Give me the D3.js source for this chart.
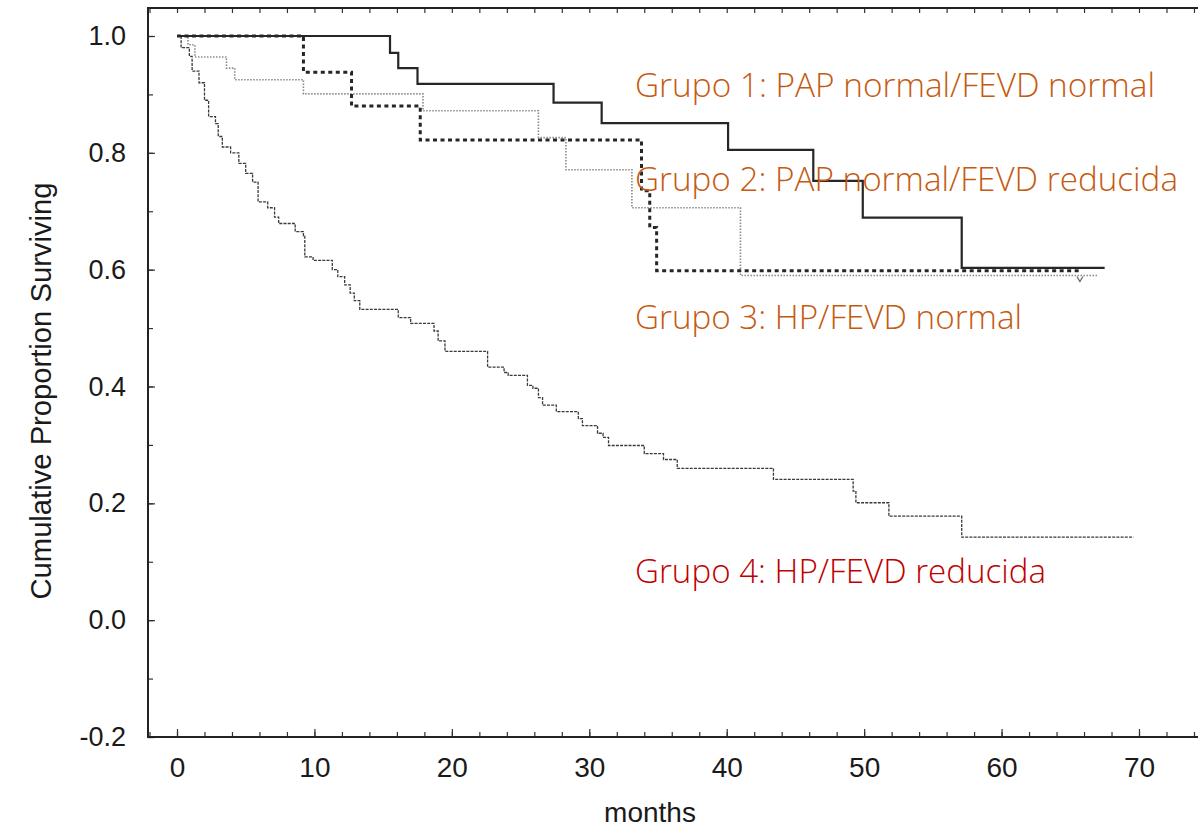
<!DOCTYPE html>
<html>
<head>
<meta charset="utf-8">
<script src="https://cdn.jsdelivr.net/npm/d3@7"></script>
<style>
  body { margin: 0; background: #fff; }
  svg { display: block; }
</style>
</head>
<body>
<div id="chart"></div>
<script>
// step times (months) and survival after each drop
var g1Times = [15.5, 16.1, 17.5, 27.4, 30.9, 40.1, 46.3, 49.9, 57.1];
var g1Surv  = [0.971, 0.945, 0.918, 0.886, 0.851, 0.805, 0.752, 0.689, 0.603];
var g1End = 67.5;

var g2Times = [9.2, 12.7, 17.7, 33.8, 34.4, 34.9];
var g2Surv  = [0.938, 0.880, 0.822, 0.735, 0.672, 0.598];
var g2End = 65.7;

var g3Times = [0.8, 1.3, 3.6, 4.2, 9.2, 17.9, 26.3, 28.3, 33.1, 41.0];
var g3Surv  = [0.985, 0.964, 0.945, 0.925, 0.901, 0.872, 0.826, 0.771, 0.706, 0.590];
var g3End = 67.0;
var g3Censor = [65.7];

var g4Times = [0.3, 0.9, 1.1, 1.6, 2.0, 2.3, 2.8, 3.0, 3.3, 3.9, 4.5, 5.0, 5.5, 5.9,
  6.6, 7.1, 7.4, 8.6, 9.2, 9.3, 9.9, 11.3, 11.7, 12.2, 12.6, 12.9, 13.3, 16.1, 17.0,
  18.7, 19.0, 19.5, 22.6, 23.8, 24.1, 25.5, 25.9, 26.3, 26.6, 27.6, 29.2, 29.5, 30.6,
  31.0, 31.4, 34.0, 35.4, 36.4, 43.4, 49.2, 49.4, 51.8, 57.1];
var g4Surv = [0.98, 0.965, 0.94, 0.92, 0.89, 0.862, 0.85, 0.828, 0.81, 0.80, 0.782,
  0.765, 0.75, 0.716, 0.706, 0.69, 0.679, 0.665, 0.658, 0.622, 0.616, 0.60, 0.588,
  0.574, 0.56, 0.547, 0.532, 0.518, 0.508, 0.495, 0.478, 0.46, 0.433, 0.424, 0.419,
  0.402, 0.397, 0.381, 0.368, 0.357, 0.345, 0.333, 0.32, 0.313, 0.299, 0.285, 0.275,
  0.26, 0.241, 0.221, 0.201, 0.178, 0.142];
var g4End = 69.6;

var xTicks = [0, 10, 20, 30, 40, 50, 60, 70];
var yTicks = [-0.2, 0.0, 0.2, 0.4, 0.6, 0.8, 1.0];
var yTickLabels = ["-0.2", "0.0", "0.2", "0.4", "0.6", "0.8", "1.0"];

var labels = [
  { text: "Grupo 1: PAP normal/FEVD normal", color: "#c55a11", y: 97, len: 520 },
  { text: "Grupo 2: PAP normal/FEVD reducida", color: "#c55a11", y: 191, len: 543 },
  { text: "Grupo 3: HP/FEVD normal", color: "#c55a11", y: 329, len: 387 },
  { text: "Grupo 4: HP/FEVD reducida", color: "#c00000", y: 583, len: 411 }
];

var width = 1198, height = 829;
var frameLeft = 148, frameTop = 8, frameBottom = 737;

var svg = d3.select("#chart").append("svg")
  .attr("width", width)
  .attr("height", height);

var x = d3.scaleLinear().domain([0, 70]).range([177, 1139]);
var y = d3.scaleLinear().domain([-0.2, 1.0]).range([frameBottom, 36]);

//minor ticks
var minorX = d3.range(-2, 76, 2);
var minorY = d3.range(-2, 11).map(d => d / 10);

svg.append("g")
  .attr("transform", "translate(0," + frameBottom + ")")
  .call(d3.axisBottom(x).tickValues(minorX).tickSize(-5).tickSizeOuter(0).tickFormat(""))
  .call(g => g.select(".domain").remove());

svg.append("g")
  .attr("transform", "translate(0," + frameTop + ")")
  .call(d3.axisTop(x).tickValues(minorX).tickSize(-5).tickSizeOuter(0).tickFormat(""))
  .call(g => g.select(".domain").remove());

svg.append("g")
  .attr("transform", "translate(" + frameLeft + ",0)")
  .call(d3.axisLeft(y).tickValues(minorY).tickSize(-5).tickSizeOuter(0).tickFormat(""))
  .call(g => g.select(".domain").remove());

//major ticks with labels
svg.append("g")
  .attr("transform", "translate(0," + frameBottom + ")")
  .call(d3.axisBottom(x).tickValues(xTicks).tickSize(-8).tickSizeOuter(0).tickPadding(20))
  .call(g => g.select(".domain").remove())
  .call(g => g.selectAll("text")
    .attr("font-family", "'Liberation Sans', Arial, sans-serif")
    .attr("font-size", 28)
    .attr("fill", "#1a1a1a"));

svg.append("g")
  .attr("transform", "translate(" + frameLeft + ",0)")
  .call(d3.axisLeft(y).tickValues(yTicks).tickSize(-7).tickSizeOuter(0).tickPadding(22)
    .tickFormat((d, i) => yTickLabels[i]))
  .call(g => g.select(".domain").remove())
  .call(g => g.selectAll("text")
    .attr("font-family", "'Liberation Sans', Arial, sans-serif")
    .attr("font-size", 27)
    .attr("fill", "#1a1a1a"));

svg.selectAll(".tick line").attr("stroke", "#333").attr("stroke-width", 1.2);

//frame
svg.append("path")
  .attr("d", "M" + (width + 5) + "," + frameTop + "H" + frameLeft + "V" + frameBottom + "H" + (width + 5))
  .attr("fill", "none")
  .attr("stroke", "#222")
  .attr("stroke-width", 2);

//axis titles
svg.append("text")
  .attr("transform", "translate(51,391) rotate(-90)")
  .attr("text-anchor", "middle")
  .attr("font-family", "'Liberation Sans', Arial, sans-serif")
  .attr("font-size", 29)
  .attr("textLength", 417)
  .attr("lengthAdjust", "spacingAndGlyphs")
  .attr("fill", "#1a1a1a")
  .text("Cumulative Proportion Surviving");

svg.append("text")
  .attr("x", 650)
  .attr("y", 822)
  .attr("text-anchor", "middle")
  .attr("font-family", "'Liberation Sans', Arial, sans-serif")
  .attr("font-size", 28)
  .attr("fill", "#1a1a1a")
  .text("months");

//survival curves
function steps(times, surv, end) {
  var pts = [[0, 1]];
  for (var i = 0; i < times.length; i++) pts.push([times[i], surv[i]]);
  pts.push([end, surv[surv.length - 1]]);
  return pts;
}

var line = d3.line()
  .x(d => x(d[0]))
  .y(d => y(d[1]))
  .curve(d3.curveStepAfter);

var series = [
  { pts: steps(g4Times, g4Surv, g4End), color: "#3a3a3a", w: 1.3, dash: "3,1.2" },
  { pts: steps(g3Times, g3Surv, g3End), color: "#8a8a8a", w: 1.6, dash: "1.5,1.5" },
  { pts: steps(g1Times, g1Surv, g1End), color: "#262626", w: 2.2, dash: null },
  { pts: steps(g2Times, g2Surv, g2End), color: "#262626", w: 3, dash: "4,3.5" }
];

svg.selectAll("path.curve")
  .data(series)
  .enter()
  .append("path")
  .attr("class", "curve")
  .attr("d", d => line(d.pts))
  .attr("fill", "none")
  .attr("stroke", d => d.color)
  .attr("stroke-width", d => d.w)
  .attr("stroke-dasharray", d => d.dash);

//censor mark on group 3
svg.selectAll("path.censor")
  .data(g3Censor)
  .enter()
  .append("path")
  .attr("class", "censor")
  .attr("d", d => "M" + (x(d) - 3) + "," + (y(g3Surv[g3Surv.length - 1]) + 1) +
    "l3,5l3,-5")
  .attr("fill", "none")
  .attr("stroke", "#666")
  .attr("stroke-width", 1.2);

//group labels
svg.selectAll("text.grupo")
  .data(labels)
  .enter()
  .append("text")
  .attr("class", "grupo")
  .attr("x", 635)
  .attr("y", d => d.y)
  .attr("font-family", "'Open Sans', 'Noto Sans', sans-serif")
  .attr("font-weight", 300)
  .attr("font-size", 33)
  .attr("textLength", d => d.len)
  .attr("lengthAdjust", "spacingAndGlyphs")
  .attr("fill", d => d.color)
  .text(d => d.text);
</script>
</body>
</html>
